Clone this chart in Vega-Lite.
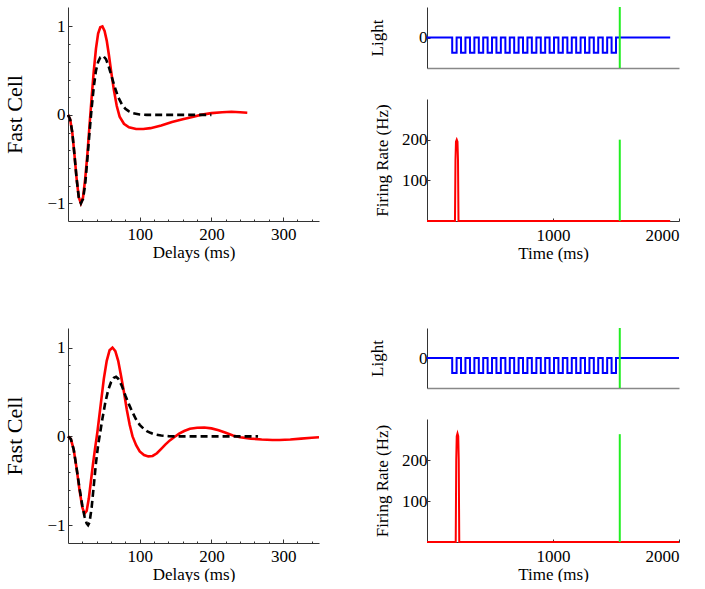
{
  "$schema": "https://vega.github.io/schema/vega-lite/v6.json",
  "padding": {"left": 3, "top": 6, "right": 0, "bottom": 0},
  "columns": 2,
  "spacing": {"row": 66, "column": 43},
  "config": {
    "view": {"stroke": null},
    "font": "Liberation Serif",
    "axis": {"labelFont": "Liberation Serif", "titleFont": "Liberation Serif", "labelFontSize": 17, "titleFontSize": 17, "titleFontWeight": "normal", "labelColor": "#000", "titleColor": "#000", "domainColor": "#333", "tickColor": "#333", "grid": false, "labelOverlap": false}
  },
  "datasets": {
    "red1": [
      {"t":0,"v":0},{"t":3,"v":-0.05},{"t":6,"v":-0.2},{"t":9,"v":-0.45},{"t":12,"v":-0.72},{"t":15,"v":-0.93},{"t":18,"v":-1.0},{"t":21,"v":-0.93},{"t":24,"v":-0.72},{"t":27,"v":-0.45},{"t":30,"v":-0.12},{"t":33,"v":0.2},{"t":36,"v":0.5},{"t":39,"v":0.75},{"t":42,"v":0.92},{"t":45,"v":0.99},{"t":48,"v":1.0},{"t":51,"v":0.95},{"t":54,"v":0.84},{"t":57,"v":0.68},{"t":60,"v":0.5},{"t":64,"v":0.28},{"t":68,"v":0.1},{"t":72,"v":-0.02},{"t":78,"v":-0.1},{"t":85,"v":-0.14},{"t":95,"v":-0.16},{"t":105,"v":-0.16},{"t":115,"v":-0.15},{"t":130,"v":-0.12},{"t":145,"v":-0.08},{"t":160,"v":-0.05},{"t":175,"v":-0.02},{"t":185,"v":0.0},{"t":200,"v":0.02},{"t":215,"v":0.03},{"t":228,"v":0.035},{"t":240,"v":0.03},{"t":250,"v":0.025}
    ],
    "black1": [
      {"t":0,"v":0},{"t":3,"v":-0.05},{"t":6,"v":-0.2},{"t":9,"v":-0.45},{"t":12,"v":-0.72},{"t":15,"v":-0.93},{"t":18,"v":-1.0},{"t":21,"v":-0.95},{"t":24,"v":-0.78},{"t":27,"v":-0.5},{"t":30,"v":-0.2},{"t":33,"v":0.08},{"t":36,"v":0.32},{"t":39,"v":0.5},{"t":42,"v":0.6},{"t":45,"v":0.65},{"t":49,"v":0.667},{"t":53,"v":0.63},{"t":57,"v":0.54},{"t":61,"v":0.43},{"t":65,"v":0.32},{"t":70,"v":0.2},{"t":75,"v":0.12},{"t":80,"v":0.07},{"t":85,"v":0.04},{"t":90,"v":0.02},{"t":100,"v":0.005},{"t":110,"v":0},{"t":200,"v":0}
    ],
    "red2": [
      {"t":0,"v":0},{"t":4,"v":-0.03},{"t":8,"v":-0.15},{"t":12,"v":-0.36},{"t":16,"v":-0.6},{"t":20,"v":-0.8},{"t":23,"v":-0.87},{"t":26,"v":-0.84},{"t":29,"v":-0.7},{"t":32,"v":-0.5},{"t":35,"v":-0.3},{"t":38,"v":-0.12},{"t":41,"v":0.05},{"t":44,"v":0.25},{"t":47,"v":0.45},{"t":50,"v":0.65},{"t":54,"v":0.85},{"t":58,"v":0.97},{"t":62,"v":1.0},{"t":66,"v":0.96},{"t":70,"v":0.85},{"t":74,"v":0.68},{"t":78,"v":0.5},{"t":82,"v":0.3},{"t":86,"v":0.13},{"t":90,"v":0.0},{"t":95,"v":-0.1},{"t":100,"v":-0.17},{"t":106,"v":-0.21},{"t":112,"v":-0.225},{"t":118,"v":-0.22},{"t":124,"v":-0.19},{"t":130,"v":-0.14},{"t":136,"v":-0.09},{"t":142,"v":-0.045},{"t":148,"v":-0.01},{"t":155,"v":0.03},{"t":162,"v":0.06},{"t":170,"v":0.085},{"t":180,"v":0.098},{"t":190,"v":0.1},{"t":200,"v":0.09},{"t":210,"v":0.07},{"t":220,"v":0.04},{"t":230,"v":0.01},{"t":240,"v":-0.01},{"t":255,"v":-0.025},{"t":270,"v":-0.035},{"t":285,"v":-0.04},{"t":295,"v":-0.04},{"t":310,"v":-0.035},{"t":325,"v":-0.025},{"t":340,"v":-0.015},{"t":350,"v":-0.01}
    ],
    "black2": [
      {"t":0,"v":0},{"t":4,"v":-0.03},{"t":8,"v":-0.15},{"t":12,"v":-0.36},{"t":16,"v":-0.58},{"t":20,"v":-0.78},{"t":23,"v":-0.9},{"t":26,"v":-0.98},{"t":28,"v":-1.0},{"t":30,"v":-0.97},{"t":33,"v":-0.8},{"t":36,"v":-0.55},{"t":39,"v":-0.3},{"t":42,"v":-0.1},{"t":45,"v":0.05},{"t":48,"v":0.2},{"t":52,"v":0.38},{"t":56,"v":0.52},{"t":60,"v":0.61},{"t":64,"v":0.66},{"t":67,"v":0.67},{"t":70,"v":0.65},{"t":75,"v":0.57},{"t":80,"v":0.46},{"t":85,"v":0.36},{"t":90,"v":0.27},{"t":95,"v":0.19},{"t":100,"v":0.13},{"t":105,"v":0.09},{"t":110,"v":0.06},{"t":115,"v":0.04},{"t":120,"v":0.025},{"t":130,"v":0.01},{"t":140,"v":0.003},{"t":150,"v":0},{"t":265,"v":0}
    ],
    "light1": [
      {"t":0,"v":0},{"t":200,"v":-0.5},{"t":235,"v":0},{"t":270,"v":-0.5},{"t":305,"v":0},{"t":341,"v":-0.5},{"t":376,"v":0},{"t":411,"v":-0.5},{"t":446,"v":0},{"t":481,"v":-0.5},{"t":516,"v":0},{"t":551,"v":-0.5},{"t":586,"v":0},{"t":622,"v":-0.5},{"t":657,"v":0},{"t":692,"v":-0.5},{"t":727,"v":0},{"t":762,"v":-0.5},{"t":797,"v":0},{"t":832,"v":-0.5},{"t":868,"v":0},{"t":903,"v":-0.5},{"t":938,"v":0},{"t":973,"v":-0.5},{"t":1008,"v":0},{"t":1043,"v":-0.5},{"t":1078,"v":0},{"t":1114,"v":-0.5},{"t":1149,"v":0},{"t":1184,"v":-0.5},{"t":1219,"v":0},{"t":1254,"v":-0.5},{"t":1289,"v":0},{"t":1324,"v":-0.5},{"t":1359,"v":0},{"t":1395,"v":-0.5},{"t":1430,"v":0},{"t":1465,"v":-0.5},{"t":1500,"v":0},{"t":1930,"v":0}
    ],
    "light2": [
      {"t":0,"v":0},{"t":200,"v":-0.5},{"t":235,"v":0},{"t":270,"v":-0.5},{"t":305,"v":0},{"t":341,"v":-0.5},{"t":376,"v":0},{"t":411,"v":-0.5},{"t":446,"v":0},{"t":481,"v":-0.5},{"t":516,"v":0},{"t":551,"v":-0.5},{"t":586,"v":0},{"t":622,"v":-0.5},{"t":657,"v":0},{"t":692,"v":-0.5},{"t":727,"v":0},{"t":762,"v":-0.5},{"t":797,"v":0},{"t":832,"v":-0.5},{"t":868,"v":0},{"t":903,"v":-0.5},{"t":938,"v":0},{"t":973,"v":-0.5},{"t":1008,"v":0},{"t":1043,"v":-0.5},{"t":1078,"v":0},{"t":1114,"v":-0.5},{"t":1149,"v":0},{"t":1184,"v":-0.5},{"t":1219,"v":0},{"t":1254,"v":-0.5},{"t":1289,"v":0},{"t":1324,"v":-0.5},{"t":1359,"v":0},{"t":1395,"v":-0.5},{"t":1430,"v":0},{"t":1465,"v":-0.5},{"t":1500,"v":0},{"t":2000,"v":0}
    ],
    "stim": [{"t":1530,"v":-1,"v2":1}],
    "fire1": [
      {"t":0,"r":0},{"t":222,"r":0},{"t":226,"r":150},{"t":230,"r":195},{"t":236,"r":200},{"t":242,"r":195},{"t":246,"r":150},{"t":250,"r":0},{"t":1930,"r":0}
    ],
    "fire2": [
      {"t":0,"r":0},{"t":228,"r":0},{"t":232,"r":200},{"t":236,"r":258},{"t":242,"r":265},{"t":248,"r":258},{"t":252,"r":200},{"t":256,"r":0},{"t":2000,"r":0}
    ],
    "spike1": [{"t":1530,"r":0,"r2":200}],
    "spike2": [{"t":1530,"r":0,"r2":263}]
  },
  "concat": [
    {
      "width": 251, "height": 214,
      "encoding": {
        "x": {"field": "t", "type": "quantitative", "scale": {"domain": [0, 350], "nice": false, "zero": false},
          "axis": {"title": "Delays (ms)", "labelOverlap": false, "values": [20,40,60,80,100,120,140,160,180,200,220,240,260,280,300,320,340], "labelExpr": "datum.value === 100 ? '100' : datum.value === 200 ? '200' : datum.value === 300 ? '300' : ''", "tickSize": {"condition": {"test": "datum.value % 100 === 0", "value": -4}, "value": -2}, "labelPadding": 9, "titlePadding": 0}},
        "y": {"field": "v", "type": "quantitative", "scale": {"domain": [-1.2, 1.22], "nice": false, "zero": false},
          "axis": {"title": "Fast Cell", "labelOverlap": false, "labelAlign": "right", "titleFontSize": 22, "values": [-1,-0.8,-0.6,-0.4,-0.2,0,0.2,0.4,0.6,0.8,1], "labelExpr": "datum.value === 1 ? '1' : datum.value === 0 ? '0' : datum.value === -1 ? '−1' : ''", "tickSize": {"condition": {"test": "datum.value === 0 || datum.value === 1 || datum.value === -1", "value": -4}, "value": -2}, "labelPadding": 7, "titlePadding": 20}}
      },
      "layer": [
        {"data": {"name": "red1"}, "mark": {"type": "line", "color": "#ff0000", "strokeWidth": 2.6}},
        {"data": {"name": "black1"}, "mark": {"type": "line", "color": "#000000", "strokeWidth": 2.6, "strokeDash": [7, 4]}}
      ]
    },
    {
      "bounds": "flush",
      "spacing": 31,
      "vconcat": [
        {
          "width": 252, "height": 61,
          "encoding": {
            "x": {"field": "t", "type": "quantitative", "scale": {"domain": [0, 2000], "nice": false}, "axis": {"title": null, "labels": false, "ticks": false, "domainColor": "#888", "domainWidth": 1.5}},
            "y": {"field": "v", "type": "quantitative", "scale": {"domain": [-1, 1], "nice": false}, "axis": {"title": "Light", "values": [0], "labelExpr": "'0'", "tickSize": -3, "labelPadding": 3, "titlePadding": 32}}
          },
          "layer": [
            {"data": {"name": "light1"}, "mark": {"type": "line", "color": "#0000ff", "strokeWidth": 2, "interpolate": "step-after"}},
            {"data": {"name": "stim"}, "mark": {"type": "rule", "color": "#22ee22", "strokeWidth": 2}, "encoding": {"y2": {"field": "v2"}}}
          ]
        },
        {
          "width": 252, "height": 122,
          "encoding": {
            "x": {"field": "t", "type": "quantitative", "scale": {"domain": [0, 2000], "nice": false}, "axis": {"title": "Time (ms)", "format": "d", "values": [1000, 2000], "tickSize": -3, "labelPadding": 9, "titlePadding": 2}},
            "y": {"field": "r", "type": "quantitative", "scale": {"domain": [0, 300], "nice": false}, "axis": {"title": "Firing Rate (Hz)", "format": "d", "values": [100, 200], "tickSize": -3, "labelPadding": 3, "titlePadding": 10}}
          },
          "layer": [
            {"data": {"name": "fire1"}, "mark": {"type": "line", "color": "#ff0000", "strokeWidth": 2}},
            {"data": {"name": "spike1"}, "mark": {"type": "rule", "color": "#22ee22", "strokeWidth": 2}, "encoding": {"y2": {"field": "r2"}}}
          ]
        }
      ]
    },
    {
      "width": 251, "height": 215,
      "encoding": {
        "x": {"field": "t", "type": "quantitative", "scale": {"domain": [0, 350], "nice": false, "zero": false},
          "axis": {"title": "Delays (ms)", "labelOverlap": false, "values": [20,40,60,80,100,120,140,160,180,200,220,240,260,280,300,320,340], "labelExpr": "datum.value === 100 ? '100' : datum.value === 200 ? '200' : datum.value === 300 ? '300' : ''", "tickSize": {"condition": {"test": "datum.value % 100 === 0", "value": -4}, "value": -2}, "labelPadding": 9, "titlePadding": 0}},
        "y": {"field": "v", "type": "quantitative", "scale": {"domain": [-1.2, 1.22], "nice": false, "zero": false},
          "axis": {"title": "Fast Cell", "labelOverlap": false, "labelAlign": "right", "titleFontSize": 22, "values": [-1,-0.8,-0.6,-0.4,-0.2,0,0.2,0.4,0.6,0.8,1], "labelExpr": "datum.value === 1 ? '1' : datum.value === 0 ? '0' : datum.value === -1 ? '−1' : ''", "tickSize": {"condition": {"test": "datum.value === 0 || datum.value === 1 || datum.value === -1", "value": -4}, "value": -2}, "labelPadding": 7, "titlePadding": 20}}
      },
      "layer": [
        {"data": {"name": "red2"}, "mark": {"type": "line", "color": "#ff0000", "strokeWidth": 2.6}},
        {"data": {"name": "black2"}, "mark": {"type": "line", "color": "#000000", "strokeWidth": 2.6, "strokeDash": [7, 4]}}
      ]
    },
    {
      "bounds": "flush",
      "spacing": 31,
      "vconcat": [
        {
          "width": 252, "height": 60,
          "encoding": {
            "x": {"field": "t", "type": "quantitative", "scale": {"domain": [0, 2000], "nice": false}, "axis": {"title": null, "labels": false, "ticks": false, "domainColor": "#888", "domainWidth": 1.5}},
            "y": {"field": "v", "type": "quantitative", "scale": {"domain": [-1, 1], "nice": false}, "axis": {"title": "Light", "values": [0], "labelExpr": "'0'", "tickSize": -3, "labelPadding": 3, "titlePadding": 32}}
          },
          "layer": [
            {"data": {"name": "light2"}, "mark": {"type": "line", "color": "#0000ff", "strokeWidth": 2, "interpolate": "step-after"}},
            {"data": {"name": "stim"}, "mark": {"type": "rule", "color": "#22ee22", "strokeWidth": 2}, "encoding": {"y2": {"field": "v2"}}}
          ]
        },
        {
          "width": 252, "height": 123,
          "encoding": {
            "x": {"field": "t", "type": "quantitative", "scale": {"domain": [0, 2000], "nice": false}, "axis": {"title": "Time (ms)", "format": "d", "values": [1000, 2000], "tickSize": -3, "labelPadding": 9, "titlePadding": 2}},
            "y": {"field": "r", "type": "quantitative", "scale": {"domain": [0, 300], "nice": false}, "axis": {"title": "Firing Rate (Hz)", "format": "d", "values": [100, 200], "tickSize": -3, "labelPadding": 3, "titlePadding": 10}}
          },
          "layer": [
            {"data": {"name": "fire2"}, "mark": {"type": "line", "color": "#ff0000", "strokeWidth": 2}},
            {"data": {"name": "spike2"}, "mark": {"type": "rule", "color": "#22ee22", "strokeWidth": 2}, "encoding": {"y2": {"field": "r2"}}}
          ]
        }
      ]
    }
  ]
}
